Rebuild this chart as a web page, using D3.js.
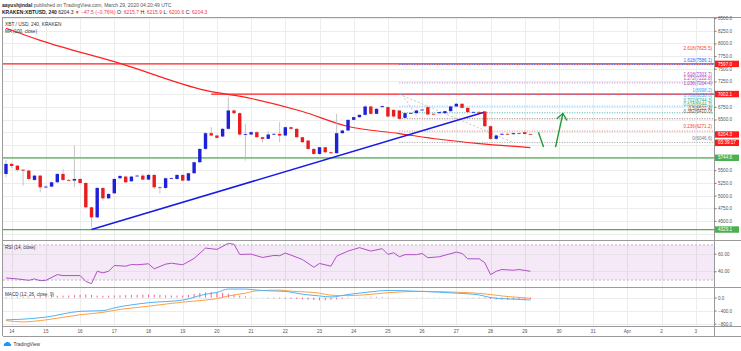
<!DOCTYPE html>
<html>
<head>
<meta charset="utf-8">
<script src="https://cdn.jsdelivr.net/npm/d3@7"></script>
<style>
  html, body { margin: 0; padding: 0; background: #fff; }
  svg { display: block; font-family: "Liberation Sans", Arial, sans-serif; }
</style>
</head>
<body>
<div id="chart"></div>
<script>
// =====================
// Data
// =====================
const HEADER_USER = "aayushjindal";
const HEADER_REST = " published on TradingView.com, March 29, 2020 04:20:49 UTC";
const SYMBOL_TEXT = "XBT / USD, 240, KRAKEN";
const MA_TEXT = "MA (100, close)";
const RSI_TEXT = "RSI (14, close)";
const MACD_TEXT = "MACD (12, 26, close, 9)";

// 4h candles, first one opens Mar 13 20:00 UTC: [open, high, low, close]
const CANDLES = [
  [5426, 5700, 5360, 5624], [5624, 5650, 5540, 5584], [5590, 5600, 5470, 5505], [5510, 5520, 5196, 5492],
  [5492, 5510, 5300, 5327], [5308, 5410, 5290, 5393], [5393, 5410, 5064, 5163], [5170, 5200, 5140, 5176],
  [5176, 5275, 5160, 5262], [5262, 5440, 5250, 5426], [5426, 5520, 5290, 5308], [5308, 5330, 5280, 5300],
  [5295, 5986, 5163, 5327], [5327, 5340, 5230, 5248], [5248, 5260, 4750, 4768], [4768, 4780, 4372, 4570],
  [4570, 5170, 4550, 5150], [5150, 5160, 4900, 4945], [4945, 5050, 4930, 5031], [5044, 5350, 5030, 5327],
  [5341, 5400, 5320, 5387], [5374, 5390, 5240, 5262], [5281, 5390, 5270, 5374], [5390, 5410, 5370, 5393],
  [5393, 5430, 5300, 5314], [5314, 5430, 5300, 5407], [5407, 5420, 5130, 5163], [5163, 5180, 5040, 5160],
  [5150, 5360, 5130, 5341], [5341, 5360, 5320, 5345], [5327, 5420, 5310, 5407], [5407, 5420, 5280, 5295],
  [5295, 5450, 5280, 5440], [5440, 5670, 5430, 5657], [5657, 5930, 5640, 5920], [5920, 6250, 5900, 6230],
  [6230, 6348, 6170, 6184], [6184, 6200, 6120, 6138], [6164, 6330, 6150, 6316], [6316, 6940, 6300, 6678],
  [6678, 6700, 6600, 6625], [6625, 6640, 6180, 6204], [6204, 6414, 5690, 6210], [6204, 6270, 6190, 6250],
  [6250, 6270, 6140, 6151], [6151, 6160, 6050, 6118], [6118, 6270, 6110, 6204], [6210, 6230, 6190, 6217],
  [6217, 6447, 6052, 6184], [6184, 6360, 6170, 6348], [6348, 6360, 6300, 6316], [6316, 6330, 6140, 6151],
  [6151, 6160, 6040, 6052], [6085, 6090, 5900, 5920], [5920, 5930, 5800, 5821], [5821, 5960, 5800, 5953],
  [5953, 5960, 5840, 5854], [5854, 5870, 5820, 5835], [5835, 6612, 5830, 6230], [6230, 6300, 6220, 6283],
  [6283, 6500, 6270, 6493], [6493, 6560, 6480, 6546], [6546, 6600, 6530, 6592], [6592, 6780, 6580, 6757],
  [6757, 6770, 6600, 6612], [6612, 6720, 6600, 6711], [6744, 6780, 6730, 6763], [6744, 6760, 6540, 6559],
  [6691, 6700, 6540, 6559], [6678, 6690, 6500, 6513], [6533, 6640, 6520, 6625], [6625, 6640, 6610, 6630],
  [6625, 6690, 6610, 6678], [6690, 6710, 6680, 6695], [6744, 6760, 6590, 6599], [6612, 6620, 6600, 6608],
  [6625, 6650, 6615, 6645], [6625, 6670, 6615, 6665], [6665, 6770, 6650, 6757], [6757, 6830, 6745, 6810],
  [6810, 6820, 6720, 6730], [6730, 6740, 6630, 6645], [6645, 6660, 6635, 6650], [6650, 6660, 6635, 6645],
  [6658, 6670, 6350, 6368], [6368, 6380, 6100, 6118], [6119, 6200, 6100, 6184], [6200, 6240, 6190, 6217],
  [6217, 6230, 6200, 6215], [6210, 6245, 6200, 6230], [6230, 6240, 6210, 6222], [6250, 6260, 6205, 6215],
  [6215.7, 6215.9, 6200.6, 6204.3]
];

// MA(100) read at a few candle indices: [candle index, value]
const MA_POINTS = [[0, 8300], [6, 8061], [20, 7607], [35, 7073], [43, 6915], [52, 6658], [60, 6362],
  [69, 6223], [76, 6110], [83, 6026], [92, 5947]];

// RSI(14): [candle index, value]
const RSI_POINTS = [[0, 32.4], [2, 31.3], [4, 29.7], [5, 31.3], [6, 29.3], [7, 29.7], [9, 36.2], [10, 35.1],
  [13, 35.1], [14, 28.5], [15, 25.9], [16, 40], [17, 38.2], [18, 40], [19, 46.6], [21, 45.8], [22, 47.7],
  [23, 47.4], [25, 48.5], [26, 42.8], [28, 48.1], [29, 49.2], [31, 47.4], [33, 54.6], [35, 66.4], [37, 64.9],
  [39, 71.8], [40, 70.7], [41, 59.2], [43, 59.5], [45, 55.7], [47, 58], [48, 57.7], [49, 60.7], [50, 58.4],
  [52, 53.4], [54, 44.6], [55, 48.9], [57, 45.8], [58, 57.2], [60, 63], [61, 64.9], [62, 66.9], [64, 63],
  [66, 65.7], [67, 59.2], [68, 61.1], [69, 56.5], [70, 58.9], [72, 58.9], [73, 60.3], [74, 55.4], [76, 56.5],
  [79, 61.8], [80, 60.3], [81, 54.2], [83, 54.2], [84, 49.7], [85, 36.2], [86, 40], [87, 42], [89, 41.2],
  [90, 42], [92, 40]];

// MACD(12, 26, 9)
const MACD_POINTS = [[0, -685], [3, -663], [7, -600], [13, -422], [17, -401], [19, -316], [25, -158],
  [31, -76], [35, 104], [37, 158], [39, 262], [42, 262], [44, 230], [46, 208], [49, 189], [52, 104],
  [55, 50], [57, 19], [60, 95], [64, 177], [67, 220], [73, 189], [79, 136], [83, 82], [85, 0], [87, -32],
  [90, -54], [92, -76]];
const SIGNAL_POINTS = [[0, -707], [3, -748], [7, -685], [13, -527], [17, -454], [19, -391], [25, -265],
  [31, -139], [35, -76], [37, -32], [39, 50], [42, 136], [44, 208], [48, 230], [50, 198], [55, 136],
  [57, 73], [60, 60], [64, 100], [67, 150], [73, 190], [79, 165], [83, 130], [85, 95], [87, 50], [90, 5],
  [92, -22]];
const HIST = [20, 22, 25, 28, 30, 35, 40, 45, 50, 55, 60, 65, 75, 85, 95, 80, 60, 55, 60, 65,
  70, 75, 80, 85, 90, 95, 90, 80, 70, 65, 62, 65, 80, 110, 140, 160, 170, 165, 150, 120,
  90, 60, 40, 20, 5, -10, -20, -25, -30, -35, -40, -45, -55, -65, -75, -85, -80, -70, -55, -35,
  -15, 0, 10, 20, 25, 25, 20, 15, 10, 5, 0, -5, -8, -10, -10, -10, -8, -6, -5, -5,
  -8, -12, -16, -22, -30, -45, -60, -70, -70, -65, -60, -55, -50];

// drawings
const H_LINES = [ // [price, start candle index, colour]
  [7597.0, -1, "#ff1f1f"], [7002.1, 36, "#ff1f1f"], [5744.6, -1, "#4caf50"], [4329.1, -1, "#4caf50"]
];
const TREND_LINE = [[15, 4329.1], [84, 6648]];
const FIB_START = 69;
const FIB_LINES = [ // [price, colour]
  [7586.1, "#2962ff"], [7222.8, "#b06ad0"], [6998.3, "#5b8ff5"], [6763, "#64b5f6"],
  [6632, "#26a69a"], [6514, "#8d5a5a"], [6271.2, "#f06060"], [6046.6, "#9a9a9a"]
];
const FIB_LABELS = [ // [text, price, colour]
  ["2.618(7825.5)", 7880, "#f44336"], ["1.618(7586.1)", 7640, "#2962ff"],
  ["1.618(7303.7)", 7350, "#ab47bc"], ["1.272(7222.8)", 7270, "#ab47bc"], ["1.236(7204.4)", 7190, "#ab47bc"],
  ["1(6998.2)", 7050, "#42a5f5"], ["0.786(6858.6)", 6940, "#42a5f5"], ["0.702(6744.3)", 6850, "#26a69a"],
  ["0.618(6644.3)", 6760, "#4caf50"], ["0.5(6522.4)", 6690, "#795548"], ["0.382(6410.0)", 6620, "#795548"],
  ["0.236(6271.2)", 6325, "#f44336"], ["0(6046.6)", 6100, "#787b86"]
];
const FIB_TREND = [[[69, 6998], [89, 6046.6]], [[69.5, 6990], [72, 6570]]];
const ARROW_DOWN = [[93.4, 6249], [94.3, 5957]];
const ARROW_UP = [[96.4, 5957], [97.7, 6619]];
const ARROW_HEAD = [[96.6, 6514], [97.7, 6619], [98.4, 6480]];

const PRICE_TICKS = d3.range(4250, 8501, 250);
const PRICE_TAGS = [ // [text, price, bg]
  ["7597.0", 7597.0, "#ff1a1a"], ["7002.1", 7002.1, "#ff1a1a"], ["6204.3", 6204.3, "#ff1a1a"],
  ["03:39:17", 6040, "#ff1a1a"], ["5744.6", 5744.6, "#4caf50"], ["4329.1", 4329.1, "#4caf50"]
];
const RSI_TICKS = [60, 40];
const MACD_TICKS = [0, -400, -800];
const DATE_LABELS = ["14", "15", "16", "17", "18", "19", "20", "21", "22", "23", "24", "25", "26",
  "27", "28", "29", "30", "31", "Apr", "2", "3"];

// =====================
// Layout
// =====================
const W = 741, H = 351;
const LEFT = 3, AXIS_X = 714;
const MAIN = [17, 240], RSI_PANE = [240, 287], MACD_PANE = [287, 326], TIME_PANE = [326, 336];
const T0 = Date.UTC(2020, 2, 13, 20);
const HOUR = 3600e3;
const candleTime = i => new Date(T0 + i * 4 * HOUR);

const svg = d3.select("#chart").append("svg").attr("width", W).attr("height", H);

const x = d3.scaleUtc()
  .domain([new Date(T0 - 2.1 * HOUR), new Date(T0 + 496.8 * HOUR)])
  .range([LEFT, AXIS_X]);
const y = d3.scaleLinear().domain([4123, 8522]).range([MAIN[1], MAIN[0]]);
const yRsi = d3.scaleLinear().domain([22.1, 75.6]).range([RSI_PANE[1], RSI_PANE[0]]);
const yMacd = d3.scaleLinear().domain([-873, 325]).range([MACD_PANE[1], MACD_PANE[0]]);

const dayTicks = d3.utcDay.range(new Date(Date.UTC(2020, 2, 14)), new Date(Date.UTC(2020, 3, 4)));

// clip for plot area
svg.append("clipPath").attr("id", "plot")
  .append("rect").attr("x", LEFT).attr("y", MAIN[0]).attr("width", AXIS_X - LEFT).attr("height", MACD_PANE[1] - MAIN[0]);

const grid = svg.append("g").attr("stroke", "#ececec").attr("stroke-width", 1);
// vertical grid
grid.selectAll("line.v").data(dayTicks).join("line")
  .attr("x1", d => Math.round(x(d)) + 0.5).attr("x2", d => Math.round(x(d)) + 0.5)
  .attr("y1", MAIN[0]).attr("y2", MACD_PANE[1]);
// horizontal grid
grid.selectAll("line.hp").data(PRICE_TICKS).join("line")
  .attr("x1", LEFT).attr("x2", AXIS_X)
  .attr("y1", d => Math.round(y(d)) + 0.5).attr("y2", d => Math.round(y(d)) + 0.5);

// RSI band
svg.append("rect")
  .attr("x", LEFT).attr("width", AXIS_X - LEFT)
  .attr("y", yRsi(70)).attr("height", yRsi(30) - yRsi(70))
  .attr("fill", "#9c27b0").attr("fill-opacity", 0.1);
svg.selectAll("line.rsig").data(RSI_TICKS).join("line")
  .attr("x1", LEFT).attr("x2", AXIS_X)
  .attr("y1", d => Math.round(yRsi(d)) + 0.5).attr("y2", d => Math.round(yRsi(d)) + 0.5)
  .attr("stroke", "#e4e0e8");
svg.selectAll("line.rsib").data([70, 30]).join("line")
  .attr("x1", LEFT).attr("x2", AXIS_X)
  .attr("y1", d => yRsi(d)).attr("y2", d => yRsi(d))
  .attr("stroke", "#b0a8b8").attr("stroke-dasharray", "2,2").attr("stroke-width", 0.8);
svg.selectAll("line.macdg").data(MACD_TICKS).join("line")
  .attr("x1", LEFT).attr("x2", AXIS_X)
  .attr("y1", d => Math.round(yMacd(d)) + 0.5).attr("y2", d => Math.round(yMacd(d)) + 0.5)
  .attr("stroke", "#ececec");

const plot = svg.append("g").attr("clip-path", "url(#plot)");

// horizontal levels
plot.selectAll("line.hl").data(H_LINES).join("line")
  .attr("x1", d => d[1] < 0 ? LEFT : x(candleTime(d[1]))).attr("x2", AXIS_X)
  .attr("y1", d => y(d[0])).attr("y2", d => y(d[0]))
  .attr("stroke", d => d[2]).attr("stroke-width", 1.3);

// fib levels
plot.selectAll("line.fib").data(FIB_LINES).join("line")
  .attr("x1", x(candleTime(FIB_START))).attr("x2", AXIS_X)
  .attr("y1", d => y(d[0])).attr("y2", d => y(d[0]))
  .attr("stroke", d => d[1]).attr("stroke-width", 0.9).attr("stroke-dasharray", "1,1.5");
plot.selectAll("line.fibt").data(FIB_TREND).join("line")
  .attr("x1", d => x(candleTime(d[0][0]))).attr("y1", d => y(d[0][1]))
  .attr("x2", d => x(candleTime(d[1][0]))).attr("y2", d => y(d[1][1]))
  .attr("stroke", "#b8b8b8").attr("stroke-width", 0.8).attr("stroke-dasharray", "2,2");

// MA
const line = d3.line().x(d => x(candleTime(d[0])));
plot.append("path").datum(MA_POINTS)
  .attr("d", line.y(d => y(d[1])).curve(d3.curveMonotoneX))
  .attr("fill", "none").attr("stroke", "#ff1f1f").attr("stroke-width", 1.2);

// trend line
plot.append("line")
  .attr("x1", x(candleTime(TREND_LINE[0][0]))).attr("y1", y(TREND_LINE[0][1]))
  .attr("x2", x(candleTime(TREND_LINE[1][0]))).attr("y2", y(TREND_LINE[1][1]))
  .attr("stroke", "#1a1ae6").attr("stroke-width", 1.5);

// candles
const cg = plot.append("g");
const cw = 3.4;
cg.selectAll("line.wick").data(CANDLES).join("line")
  .attr("x1", (d, i) => x(candleTime(i))).attr("x2", (d, i) => x(candleTime(i)))
  .attr("y1", d => y(d[1])).attr("y2", d => y(d[2]))
  .attr("stroke", "#b5b5b5").attr("stroke-width", 0.8);
cg.selectAll("rect").data(CANDLES).join("rect")
  .attr("x", (d, i) => x(candleTime(i)) - cw / 2)
  .attr("width", cw)
  .attr("y", d => y(Math.max(d[0], d[3])))
  .attr("height", d => Math.max(0.8, Math.abs(y(d[0]) - y(d[3]))))
  .attr("fill", d => d[3] >= d[0] ? "#2020d8" : "#ea1c1c");

// arrows
const arrowLine = d3.line().x(d => x(candleTime(d[0]))).y(d => y(d[1]));
[ARROW_DOWN, ARROW_UP, ARROW_HEAD].forEach(pts => {
  plot.append("path").attr("d", arrowLine(pts))
    .attr("fill", "none").attr("stroke", "#1f9a36").attr("stroke-width", 1.4);
});

// RSI line
plot.append("path").datum(RSI_POINTS)
  .attr("d", d3.line().x(d => x(candleTime(d[0]))).y(d => yRsi(d[1])))
  .attr("fill", "none").attr("stroke", "#b04fc6").attr("stroke-width", 1);

// MACD histogram
plot.selectAll("line.hist").data(HIST).join("line")
  .attr("x1", (d, i) => x(candleTime(i))).attr("x2", (d, i) => x(candleTime(i)))
  .attr("y1", yMacd(0)).attr("y2", d => yMacd(d))
  .attr("stroke", "#f0628f").attr("stroke-width", 1);
plot.append("path").datum(SIGNAL_POINTS)
  .attr("d", d3.line().x(d => x(candleTime(d[0]))).y(d => yMacd(d[1])).curve(d3.curveMonotoneX))
  .attr("fill", "none").attr("stroke", "#ffa040").attr("stroke-width", 1);
plot.append("path").datum(MACD_POINTS)
  .attr("d", d3.line().x(d => x(candleTime(d[0]))).y(d => yMacd(d[1])).curve(d3.curveMonotoneX))
  .attr("fill", "none").attr("stroke", "#4fb3f5").attr("stroke-width", 1);

// fib labels
svg.selectAll("text.fibl").data(FIB_LABELS).join("text")
  .attr("x", AXIS_X - 2).attr("y", d => y(d[1]))
  .attr("text-anchor", "end").attr("font-size", 4.6)
  .attr("fill", d => d[2]).text(d => d[0]);

// pane borders
const border = svg.append("g").attr("stroke", "#9a9a9a").attr("stroke-width", 1);
[MAIN[0], RSI_PANE[0], MACD_PANE[0], TIME_PANE[0], TIME_PANE[1]].forEach(v => {
  border.append("line").attr("x1", LEFT).attr("x2", W).attr("y1", v + 0.5).attr("y2", v + 0.5);
});
border.append("line").attr("x1", LEFT - 0.5).attr("x2", LEFT - 0.5).attr("y1", MAIN[0]).attr("y2", TIME_PANE[1]);
border.append("line").attr("x1", AXIS_X + 0.5).attr("x2", AXIS_X + 0.5).attr("y1", MAIN[0]).attr("y2", TIME_PANE[1]);

// right axes (price tick labels hidden where an axis tag covers them)
const fmt1 = d3.format(".1f");
const freeTicks = PRICE_TICKS.filter(p => PRICE_TAGS.every(t => Math.abs(y(p) - y(t[1])) > 4.5));
svg.append("g").attr("transform", `translate(${AXIS_X + 0.5},0)`)
  .call(d3.axisRight(y).tickValues(freeTicks).tickSize(2).tickPadding(1.5).tickFormat(fmt1));
svg.append("g").attr("transform", `translate(${AXIS_X + 0.5},0)`)
  .call(d3.axisRight(yRsi).tickValues(RSI_TICKS).tickSize(2).tickPadding(1.5).tickFormat(d3.format(".2f")));
svg.append("g").attr("transform", `translate(${AXIS_X + 0.5},0)`)
  .call(d3.axisRight(yMacd).tickValues(MACD_TICKS).tickSize(2).tickPadding(1.5).tickFormat(fmt1));
svg.selectAll(".domain").remove();
svg.selectAll(".tick text").attr("font-size", 4.6).attr("fill", "#555").attr("font-family", "Liberation Sans, Arial, sans-serif");
svg.selectAll(".tick line").attr("stroke", "#777");

// price tags on axis
const tags = svg.append("g").selectAll("g").data(PRICE_TAGS).join("g")
  .attr("transform", d => `translate(${AXIS_X + 1},${y(d[1])})`);
tags.append("rect").attr("x", 0).attr("y", -3.2).attr("width", 24).attr("height", 6.4).attr("fill", d => d[2]);
tags.append("text").attr("x", 3).attr("y", 0).attr("dy", "0.35em")
  .attr("font-size", 4.6).attr("fill", "#fff").text(d => d[0]);

// time axis labels
svg.selectAll("text.date").data(dayTicks).join("text")
  .attr("x", d => x(d)).attr("y", 333)
  .attr("text-anchor", "middle").attr("font-size", 4.6).attr("fill", "#555")
  .text((d, i) => DATE_LABELS[i]);

// pane legends
svg.append("text").attr("x", 5).attr("y", 26).attr("font-size", 4.8).attr("fill", "#333").text(SYMBOL_TEXT);
svg.append("text").attr("x", 5).attr("y", 33).attr("font-size", 4.6).attr("fill", "#333").text(MA_TEXT);
svg.append("text").attr("x", 5).attr("y", 249).attr("font-size", 4.6).attr("fill", "#333").text(RSI_TEXT);
svg.append("text").attr("x", 5).attr("y", 296).attr("font-size", 4.6).attr("fill", "#333").text(MACD_TEXT);

// header
const h1 = svg.append("text").attr("x", 2).attr("y", 6.5).attr("font-size", 5).attr("fill", "#555");
h1.append("tspan").attr("font-weight", 700).attr("fill", "#222").text(HEADER_USER);
h1.append("tspan").text(HEADER_REST);
const HEADER2 = [
  ["KRAKEN:XBTUSD, 240 ", "#222", 700], ["6204.3 ", "#222", 400], ["▼ ", "#f23645", 400],
  ["\u221247.5 (\u22120.76%) ", "#f23645", 400], ["O: ", "#222", 400], ["6215.7 ", "#f23645", 400],
  ["H: ", "#222", 400], ["6215.9 ", "#f23645", 400], ["L: ", "#222", 400], ["6200.6 ", "#f23645", 400],
  ["C: ", "#222", 400], ["6204.3", "#f23645", 400]
];
svg.append("text").attr("x", 2).attr("y", 13.5).attr("font-size", 5)
  .selectAll("tspan").data(HEADER2).join("tspan")
  .attr("fill", d => d[1]).attr("font-weight", d => d[2]).text(d => d[0]);

// TradingView mark
const logo = svg.append("g").attr("transform", "translate(3,341)");
logo.append("path").attr("d", "M1,5 a2,2 0 0 1 1.5,-3 a2.6,2.6 0 0 1 4.6,0.6 a1.8,1.8 0 0 1 1,2.4 z")
  .attr("fill", "#2196f3");
logo.append("text").attr("x", 10.5).attr("y", 4.6).attr("font-size", 4.8).attr("fill", "#333").text("TradingView");
</script>
</body>
</html>
